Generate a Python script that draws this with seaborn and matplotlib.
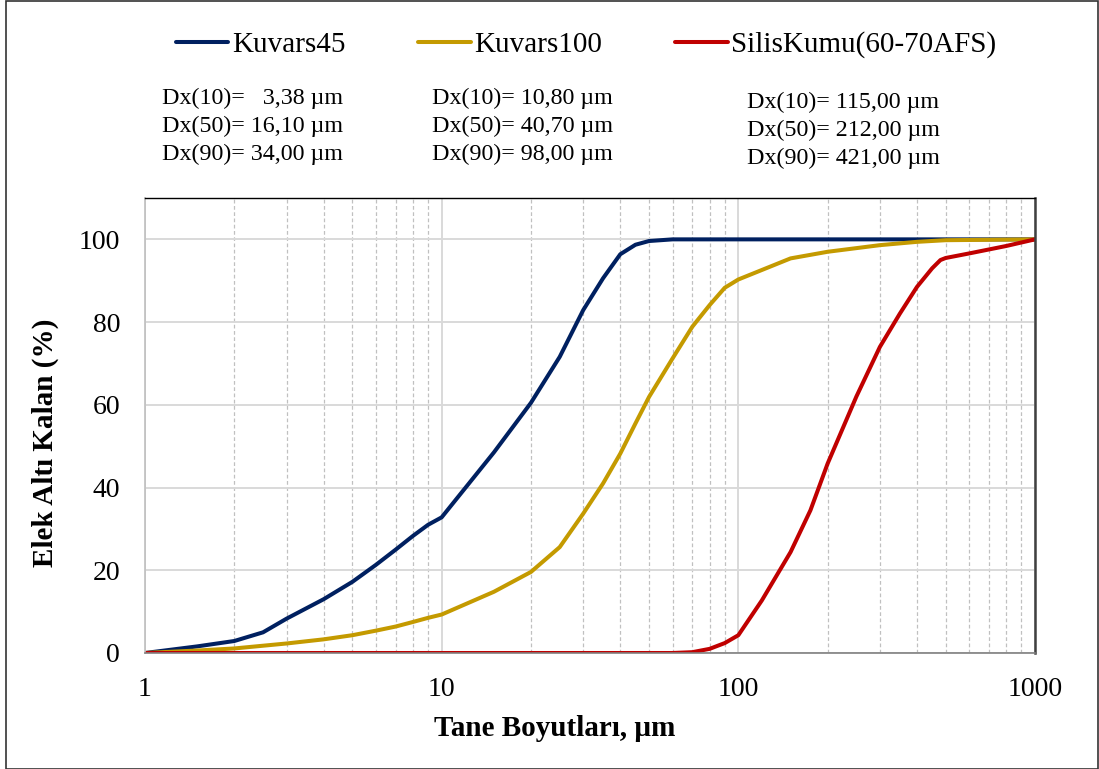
import numpy as np
import pandas as pd
import matplotlib
matplotlib.use("Agg")
import matplotlib.pyplot as plt
import seaborn as sns
from matplotlib.ticker import FixedLocator, NullFormatter, LogLocator
from matplotlib.patches import Rectangle
from matplotlib.lines import Line2D

# ---- data ----
k45_x = [1, 1.5, 2, 2.5, 3, 4, 5, 6, 7, 8, 9, 10, 15, 20, 25, 30, 35, 40, 45, 50, 60, 100, 1000]
k45_y = [0, 1.6, 2.9, 5.0, 8.3, 13.0, 17.2, 21.3, 25.0, 28.3, 31.0, 32.8, 48.5, 60.5, 71.6, 82.9, 90.6, 96.4, 98.7, 99.6, 100, 100, 100]

k100_x = [1, 1.5, 2, 3, 4, 5, 6, 7, 8, 9, 10, 15, 20, 25, 30, 35, 40, 45, 50, 60, 70, 80, 90, 100, 150, 200, 300, 400, 500, 1000]
k100_y = [0, 0.6, 1.1, 2.3, 3.3, 4.3, 5.4, 6.4, 7.5, 8.5, 9.3, 14.8, 19.6, 25.6, 33.7, 41.0, 48.2, 55.5, 61.9, 71.2, 78.9, 84.1, 88.3, 90.3, 95.4, 97.0, 98.6, 99.4, 99.8, 100]

sk_x = [1, 10, 50, 60, 70, 80, 90, 100, 120, 150, 175, 200, 250, 300, 350, 400, 450, 480, 500, 600, 800, 1000]
sk_y = [0, 0, 0, 0, 0.2, 1.0, 2.4, 4.3, 12.7, 24.4, 34.5, 45.8, 62.0, 74.0, 82.0, 88.5, 93.0, 95.0, 95.5, 96.6, 98.4, 100]

series_names = ["Kuvars45", "Kuvars100", "SilisKumu(60-70AFS)"]
series_colors = ["#002060", "#C49A00", "#C00000"]

dx_labels = [
    ["Dx(10)=   3,38 µm", "Dx(50)= 16,10 µm", "Dx(90)= 34,00 µm"],
    ["Dx(10)= 10,80 µm", "Dx(50)= 40,70 µm", "Dx(90)= 98,00 µm"],
    ["Dx(10)= 115,00 µm", "Dx(50)= 212,00 µm", "Dx(90)= 421,00 µm"],
]

x_ticks = [1, 10, 100, 1000]
x_tick_labels = ["1", "10", "100", "1000"]
y_ticks = [0, 20, 40, 60, 80, 100]

df = pd.concat([
    pd.DataFrame({"x": k45_x, "y": k45_y, "s": series_names[0]}),
    pd.DataFrame({"x": k100_x, "y": k100_y, "s": series_names[1]}),
    pd.DataFrame({"x": sk_x, "y": sk_y, "s": series_names[2]}),
], ignore_index=True)

sns.set_theme(style="white")
plt.rcParams["font.family"] = ["Liberation Serif", "DejaVu Serif"]
plt.rcParams["text.color"] = "black"
plt.rcParams["axes.labelcolor"] = "black"
plt.rcParams["xtick.color"] = "black"
plt.rcParams["ytick.color"] = "black"

fig = plt.figure(figsize=(10.99, 7.69), dpi=100)
ax = fig.add_axes([145/1099, 1-653/769, (1035-145)/1099, (653-198)/769])

sns.lineplot(data=df, x="x", y="y", hue="s", palette=dict(zip(series_names, series_colors)),
             linewidth=2.9, ax=ax, sort=False, estimator=None, legend=False)

ax.set_xscale("log")
ax.set_xlim(1, 1000)
ax.set_ylim(0, 110)
ax.xaxis.set_major_locator(FixedLocator(x_ticks))
ax.set_xticklabels(x_tick_labels)
ax.xaxis.set_minor_locator(LogLocator(base=10, subs=np.arange(2, 10)))
ax.xaxis.set_minor_formatter(NullFormatter())
ax.set_yticks(y_ticks)
ax.tick_params(axis="both", which="both", length=0, labelsize=20, labelcolor="black")
ax.tick_params(axis="x", pad=17)
ax.tick_params(axis="y", pad=18)

ax.grid(which="major", axis="both", color="#d9d9d9", linewidth=1.4, linestyle="-")
ax.grid(which="minor", axis="x", color="#c0c0c0", linewidth=0.9, linestyle=(0, (3, 2)))
ax.set_axisbelow(True)

ax.spines["top"].set_color("black"); ax.spines["top"].set_linewidth(1.0)
ax.spines["right"].set_color("#404040"); ax.spines["right"].set_linewidth(1.8)
ax.spines["bottom"].set_color("#808080"); ax.spines["bottom"].set_linestyle((0, (1, 1))); ax.spines["bottom"].set_linewidth(1.2)
ax.spines["left"].set_color("#bfbfbf"); ax.spines["left"].set_linewidth(1.2)

ax.set_xlabel("Tane Boyutları, µm", fontsize=21, fontweight="bold", labelpad=11, color="black")
ax.set_ylabel("Elek Altı Kalan (%)", fontsize=21, fontweight="bold", labelpad=10, color="black")
ax.xaxis.set_label_coords((555-145)/890, -(729-653)/455, transform=ax.transAxes)
ax.xaxis.label.set_va("center")
ax.yaxis.set_label_coords(-(145-45)/890, (653-443)/455, transform=ax.transAxes)
ax.yaxis.label.set_va("center")

# legend
handles = [Line2D([0], [0], color=c, lw=2.9) for c in series_colors]
fig.legend(handles, series_names, loc="center", bbox_to_anchor=(586/1099, 1-45/769), ncol=3,
           frameon=False, fontsize=21, handlelength=1.8, handletextpad=0.12, columnspacing=2.5,
           labelcolor="black")

# Dx annotations
col_x = [162, 432, 747]
col_y = [[98, 126, 154], [98, 126, 154], [102, 130, 158]]
for ci in range(3):
    for ri in range(3):
        fig.text(col_x[ci]/1099, 1-col_y[ci][ri]/769, dx_labels[ci][ri], fontsize=17.3,
                 ha="left", va="center", color="black")

# figure border
fig.patches.append(Rectangle((6/1099, 0.5/769), 1-7.5/1099, 1-1.5/769, transform=fig.transFigure,
                             fill=False, edgecolor="#333333", linewidth=1.2))

fig.savefig("out.png", dpi=100)
